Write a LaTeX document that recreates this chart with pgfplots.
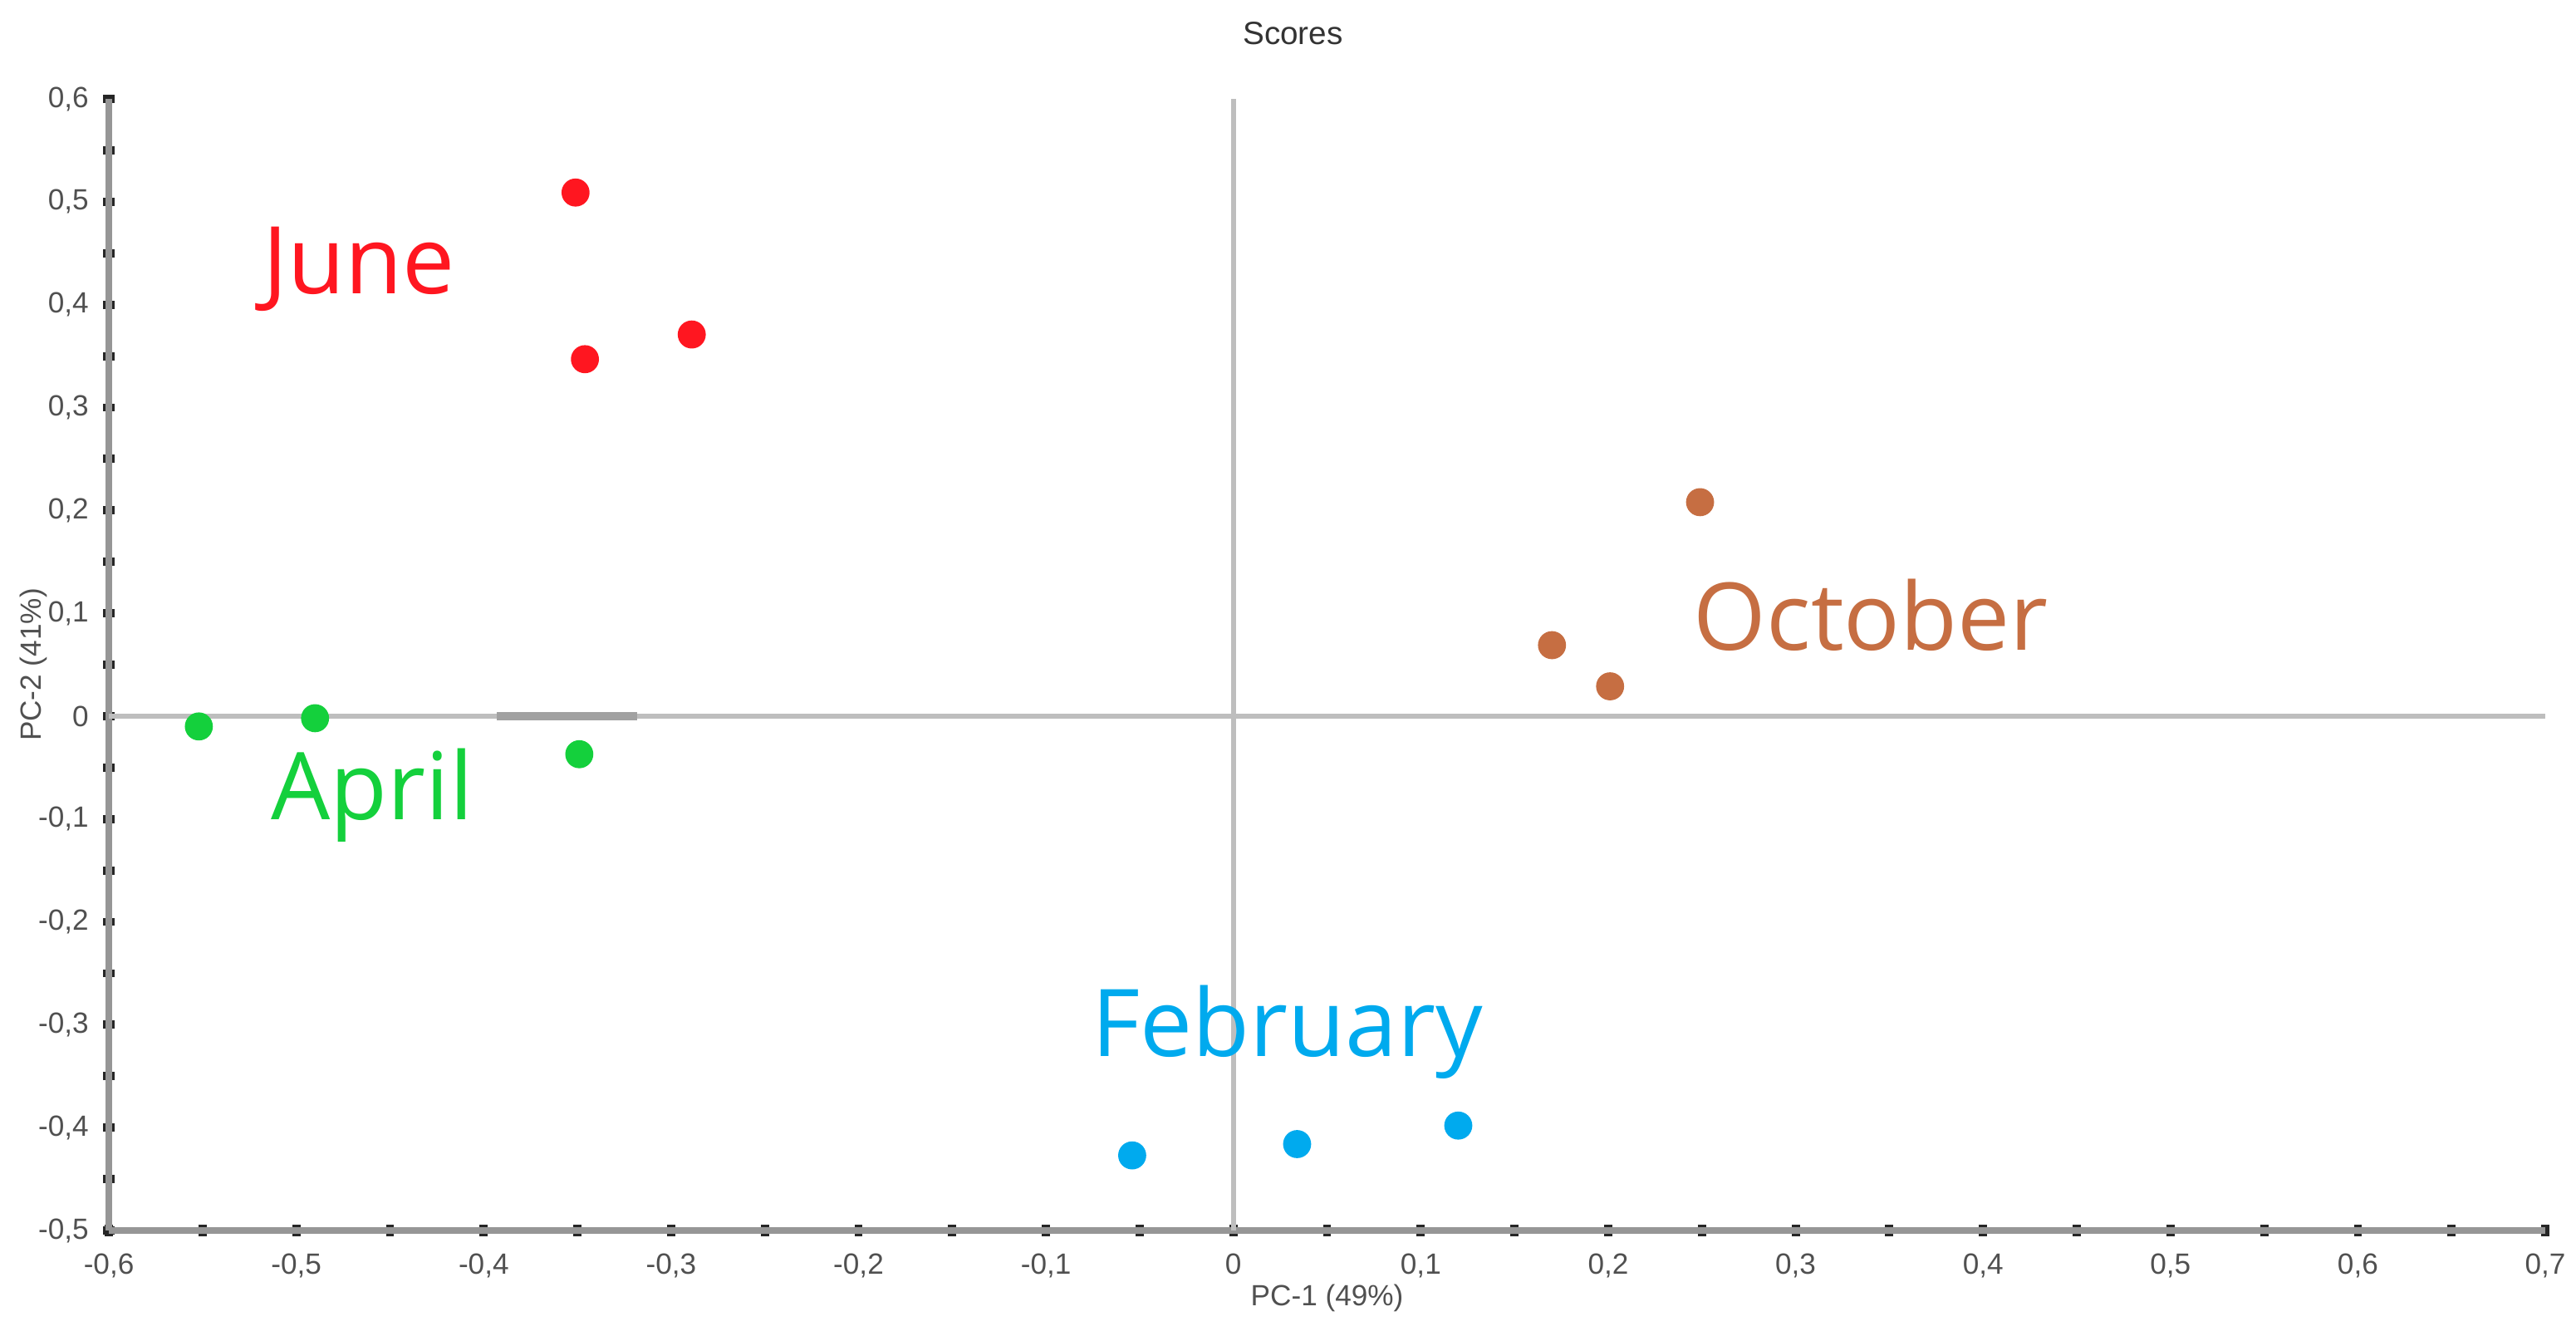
\documentclass[border=0pt]{standalone}
\usepackage{fontspec}
\setmainfont{Liberation Sans}
\newfontfamily\lab{Open Sans}
\usepackage{pgfplots}
\pgfplotsset{compat=1.18}
\definecolor{junec}{RGB}{255,22,32}
\definecolor{aprilc}{RGB}{20,208,60}
\definecolor{octc}{RGB}{198,110,66}
\definecolor{febc}{RGB}{0,170,238}
\definecolor{axc}{RGB}{150,150,150}
\definecolor{zc}{RGB}{190,190,190}
\definecolor{tc}{RGB}{80,80,80}
\begin{document}
\begin{tikzpicture}
\begin{axis}[
  scale only axis, width=14.655cm, height=6.805cm,
  xmin=-0.6, xmax=0.7, ymin=-0.5, ymax=0.6,
  axis x line=bottom, axis y line=left,
  axis line style={axc, line width=1.1pt, -},
  xtick={-0.6,-0.5,-0.4,-0.3,-0.2,-0.1,0,0.1,0.2,0.3,0.4,0.5,0.6,0.7},
  ytick={-0.5,-0.4,-0.3,-0.2,-0.1,0,0.1,0.2,0.3,0.4,0.5,0.6},
  minor x tick num=1, minor y tick num=1,
  tick align=center, major tick length=0.07cm, minor tick length=0.07cm,
  every tick/.style={black!85, line width=1.4pt},
  xticklabel style={font=\fontsize{5}{6}\selectfont, text=tc, inner sep=0pt, anchor=north, yshift=-0.1cm},
  yticklabel style={font=\fontsize{5}{6}\selectfont, text=tc, inner sep=0pt, anchor=east, xshift=-0.08cm},
  /pgf/number format/.cd, use comma, fixed, precision=1, assume math mode=true,
  /pgfplots/.cd,
  title={Scores},
  title style={font=\fontsize{5.5}{6.5}\selectfont, text=black!80, at={(0.486,1)}, anchor=center, yshift=0.184cm, inner sep=0pt},
  xlabel={PC-1 (49\%)},
  xlabel style={font=\fontsize{5}{6}\selectfont, text=tc, at={(0.5,0)}, anchor=center, yshift=-0.405cm, inner sep=0pt},
  ylabel={PC-2 (41\%)},
  ylabel style={font=\fontsize{5}{6}\selectfont, text=tc, at={(0,0.5)}, anchor=center, yshift=0.455cm, inner sep=0pt},
  clip=false,
]
\draw[zc, line width=0.8pt] (axis cs:0,-0.5) -- (axis cs:0,0.6);
\draw[zc, line width=0.8pt] (axis cs:-0.6,0) -- (axis cs:0.7,0);
\draw[zc!85!black, line width=1.3pt] (axis cs:-0.393,0) -- (axis cs:-0.318,0);
\addplot[only marks, mark=*, mark size=2.2pt, junec, mark options={draw=junec, fill=junec}]
  coordinates {(-0.351,0.509) (-0.346,0.347) (-0.289,0.371)};
\addplot[only marks, mark=*, mark size=2.2pt, aprilc, mark options={draw=aprilc, fill=aprilc}]
  coordinates {(-0.552,-0.010) (-0.490,-0.002) (-0.349,-0.037)};
\addplot[only marks, mark=*, mark size=2.2pt, octc, mark options={draw=octc, fill=octc}]
  coordinates {(0.249,0.208) (0.170,0.069) (0.201,0.029)};
\addplot[only marks, mark=*, mark size=2.2pt, febc, mark options={draw=febc, fill=febc}]
  coordinates {(-0.054,-0.427) (0.034,-0.416) (0.120,-0.398)};
\node[anchor=base west, inner sep=0pt, text=junec, font=\lab\fontsize{16}{19}\selectfont] at (axis cs:-0.5185,0.411) {June};
\node[anchor=base west, inner sep=0pt, text=aprilc, font=\lab\fontsize{16}{19}\selectfont] at (axis cs:-0.514,-0.101) {April};
\node[anchor=base west, inner sep=0pt, text=octc, font=\lab\fontsize{16}{19}\selectfont] at (axis cs:0.245,0.064) {October};
\node[anchor=base west, inner sep=0pt, text=febc, font=\lab\fontsize{16}{19}\selectfont] at (axis cs:-0.076,-0.331) {February};
\end{axis}
\pgfresetboundingbox
\useasboundingbox ([shift={(-0.655cm,-0.66cm)}]current axis.south west) rectangle ([shift={(0.185cm,0.595cm)}]current axis.north east);
\end{tikzpicture}
\end{document}
